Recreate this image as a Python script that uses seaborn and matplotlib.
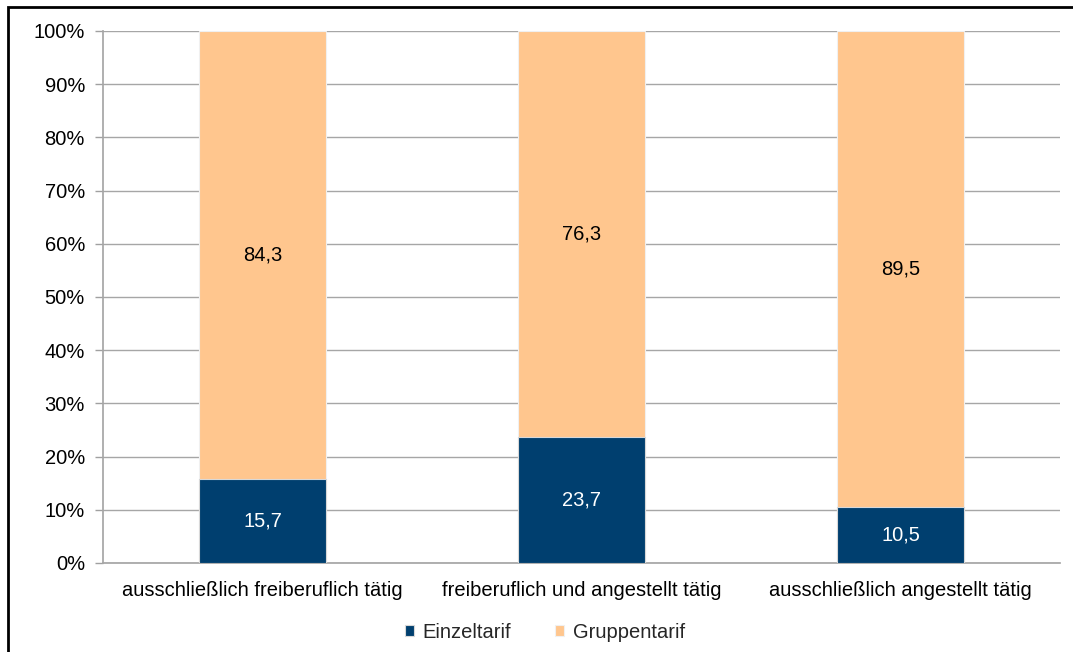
import matplotlib
matplotlib.use("Agg")
import matplotlib.pyplot as plt
import seaborn as sns
import pandas as pd
from matplotlib.patches import Rectangle

# data
categories = ["ausschließlich freiberuflich tätig",
              "freiberuflich und angestellt tätig",
              "ausschließlich angestellt tätig"]
einzeltarif = [15.7, 23.7, 10.5]
gruppentarif = [84.3, 76.3, 89.5]

navy = "#003F6F"
orange = "#FFC68E"
fs = 14.5

sns.set_theme(style="white")
plt.rcParams["font.family"] = ["Liberation Sans", "DejaVu Sans"]

df = pd.DataFrame({"kat": categories, "einzel": einzeltarif, "gruppe": gruppentarif})
df["total"] = df["einzel"] + df["gruppe"]

fig = plt.figure(figsize=(10.73, 6.52), dpi=100)
ax = fig.add_axes([103 / 1073, 1 - 563 / 652, (1060 - 103) / 1073, (563 - 31) / 652])

sns.barplot(data=df, x="kat", y="total", color=orange, width=0.395, saturation=1,
            edgecolor="#F0F0F0", linewidth=0.8, ax=ax, label="Gruppentarif", zorder=3)
sns.barplot(data=df, x="kat", y="einzel", color=navy, width=0.395, saturation=1,
            edgecolor="#D8D8D8", linewidth=0.8, ax=ax, label="Einzeltarif", zorder=4)

# labels in the segments
for i, (e, g) in enumerate(zip(einzeltarif, gruppentarif)):
    ax.text(i, e / 2, f"{e:.1f}".replace(".", ","), ha="center", va="center",
            color="white", fontsize=fs, zorder=5)
    ax.text(i, e + g / 2, f"{g:.1f}".replace(".", ","), ha="center", va="center",
            color="black", fontsize=fs, zorder=5)

ax.set_ylim(0, 100)
ax.set_xlim(-0.5, 2.5)
ax.set_yticks(range(0, 101, 10))
ax.set_yticklabels([f"{v}%" for v in range(0, 101, 10)], fontsize=fs, color="black")
ax.tick_params(axis="x", labelsize=fs, colors="black", length=0, pad=13)
ax.tick_params(axis="y", length=6, width=1, color="#A0A0A0", left=True, pad=7)
ax.set_xlabel("")
ax.set_ylabel("")
ax.yaxis.grid(True, color="#A6A6A6", linewidth=1, zorder=0)
ax.set_axisbelow(True)
for s in ["top", "right"]:
    ax.spines[s].set_visible(False)
ax.spines["left"].set_color("#A6A6A6")
ax.spines["bottom"].set_color("#A6A6A6")

handles, labels = ax.get_legend_handles_labels()
order = [labels.index("Einzeltarif"), labels.index("Gruppentarif")]
ax.legend([handles[k] for k in order], [labels[k] for k in order],
          loc="center", bbox_to_anchor=(545 / 1073, 1 - 632 / 652),
          bbox_transform=fig.transFigure, ncol=2, frameon=False, fontsize=fs,
          handlelength=0.45, handleheight=0.45, handletextpad=0.4, columnspacing=2.2)

# outer frame
fig.patches.append(Rectangle((8 / 1073, -0.01), 1.1, 1 - 7 / 652 + 0.01,
                             transform=fig.transFigure, fill=False,
                             edgecolor="black", linewidth=2))

fig.savefig("out.png", dpi=100)
